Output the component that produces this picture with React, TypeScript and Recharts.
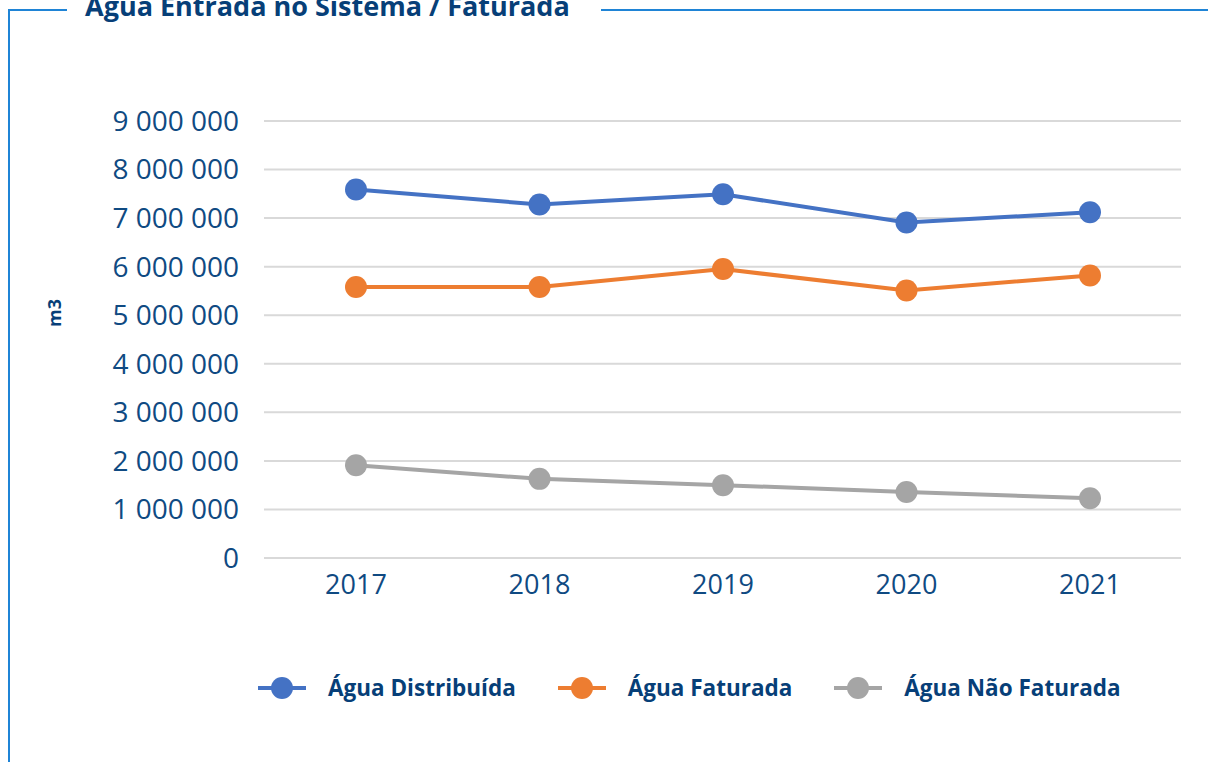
import { LineChart, Line, XAxis, YAxis, CartesianGrid, Legend } from 'recharts';

const years = ['2017', '2018', '2019', '2020', '2021'];
const aguaDistribuida = [7590000, 7280000, 7490000, 6910000, 7120000];
const aguaFaturada = [5580000, 5580000, 5950000, 5510000, 5820000];
const aguaNaoFaturada = [1910000, 1630000, 1500000, 1360000, 1230000];
const yTicks = [0, 1000000, 2000000, 3000000, 4000000, 5000000, 6000000, 7000000, 8000000, 9000000];

const seriesNames = ['Água Distribuída', 'Água Faturada', 'Água Não Faturada'];
const seriesColors = ['#4472c4', '#ed7d31', '#a5a5a5'];

const chartData = years.map((year, i) => ({
  year,
  dist: aguaDistribuida[i],
  fat: aguaFaturada[i],
  naoFat: aguaNaoFaturada[i],
}));

const NAVY = '#073f78';
const TICK = '#0f4a82';
const FRAME = '#1f84d6';
const FONT = '"Open Sans", "Noto Sans", sans-serif';

// thousands with a plain space, like "9 000 000"
const fmt = (v: number) => String(v).replace(/\B(?=(\d{3})+(?!\d))/g, ' ');

function LegendContent(props: any) {
  const items = props.payload || [];
  return (
    <div style={{ display: 'flex', alignItems: 'center', gap: 42 }}>
      {items.map((item: any) => (
        <div key={item.value} style={{ display: 'flex', alignItems: 'center' }}>
          <svg width={48} height={24} style={{ marginRight: 22 }}>
            <line x1={0} y1={12} x2={48} y2={12} stroke={item.color} strokeWidth={4} />
            <circle cx={24} cy={12} r={11} fill={item.color} />
          </svg>
          <span style={{ fontFamily: FONT, fontWeight: 700, fontSize: 22.5, color: NAVY }}>
            {item.value}
          </span>
        </div>
      ))}
    </div>
  );
}

export default function App() {
  return (
    <div style={{ position: 'fixed', left: 0, top: 0, width: 1208, height: 762, background: '#fff', overflow: 'hidden' }}>
      {/* frame lines around the box */}
      <div style={{ position: 'absolute', left: 8, top: 9, width: 2, height: 760, background: FRAME }} />
      <div style={{ position: 'absolute', left: 8, top: 9, width: 59, height: 2, background: FRAME }} />
      <div style={{ position: 'absolute', left: 601, top: 9, width: 607, height: 2, background: FRAME }} />
      <div
        style={{
          position: 'absolute',
          left: 85,
          top: -12,
          fontFamily: FONT,
          fontWeight: 700,
          fontSize: 27,
          lineHeight: '36px',
          color: NAVY,
          whiteSpace: 'nowrap',
        }}
      >
        Água Entrada no Sistema / Faturada
      </div>

      <div style={{ position: 'absolute', left: 0, top: 0 }}>
        <LineChart
          width={1208}
          height={762}
          data={chartData}
          margin={{ top: 121, right: 27, bottom: 174, left: 0 }}
          style={{ fontFamily: FONT }}
        >
          <CartesianGrid vertical={false} stroke="#d9d9d9" strokeWidth={2} />
          <XAxis
            dataKey="year"
            axisLine={false}
            tickLine={false}
            tickSize={0}
            tickMargin={17}
            height={30}
            padding={{ left: 92, right: 91 }}
            tick={{ fill: TICK, fontSize: 27 }}
          />
          <YAxis
            width={264}
            domain={[0, 9000000]}
            ticks={yTicks}
            interval={0}
            axisLine={false}
            tickLine={false}
            tickSize={0}
            tickMargin={25}
            tickFormatter={fmt}
            tick={{ fill: TICK, fontSize: 28 }}
            label={{
              content: () => (
                <text
                  x={54}
                  y={313}
                  transform="rotate(-90 54 313)"
                  textAnchor="middle"
                  dominantBaseline="central"
                  fill={NAVY}
                  fontWeight={700}
                  fontSize={18}
                  fontFamily={FONT}
                >
                  m3
                </text>
              ),
            }}
          />
          <Legend
            layout="horizontal"
            verticalAlign="middle"
            align="center"
            wrapperStyle={{ top: 672, left: 258, width: 'auto' }}
            content={<LegendContent />}
          />
          <Line
            dataKey="dist"
            name={seriesNames[0]}
            stroke={seriesColors[0]}
            strokeWidth={4}
            dot={{ r: 11, fill: seriesColors[0], stroke: seriesColors[0], strokeWidth: 0 }}
            isAnimationActive={false}
          />
          <Line
            dataKey="fat"
            name={seriesNames[1]}
            stroke={seriesColors[1]}
            strokeWidth={4}
            dot={{ r: 11, fill: seriesColors[1], stroke: seriesColors[1], strokeWidth: 0 }}
            isAnimationActive={false}
          />
          <Line
            dataKey="naoFat"
            name={seriesNames[2]}
            stroke={seriesColors[2]}
            strokeWidth={4}
            dot={{ r: 11, fill: seriesColors[2], stroke: seriesColors[2], strokeWidth: 0 }}
            isAnimationActive={false}
          />
        </LineChart>
      </div>
    </div>
  );
}
